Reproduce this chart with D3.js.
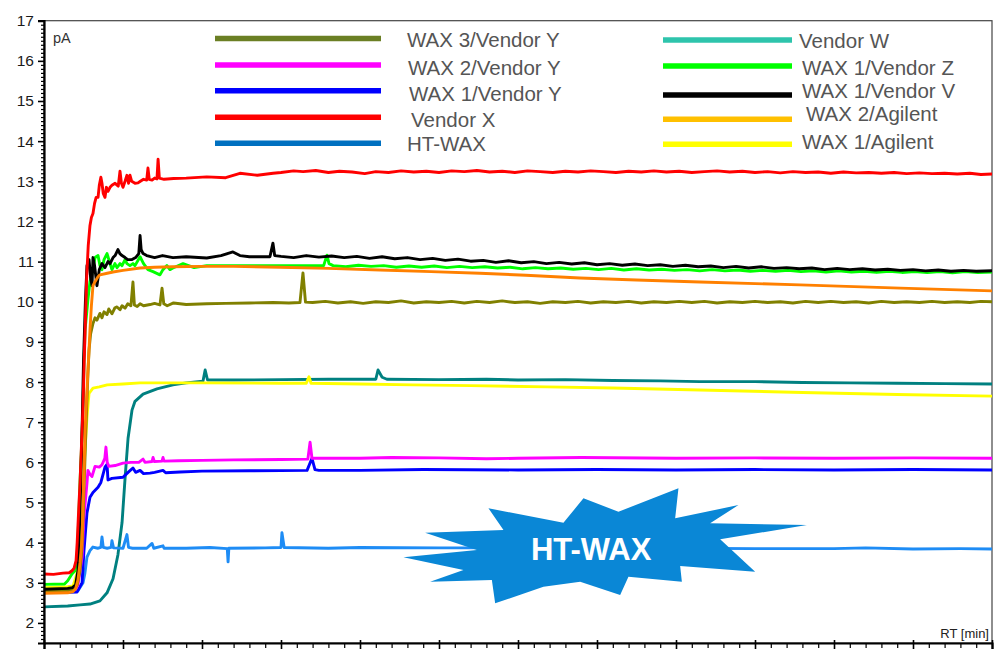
<!DOCTYPE html>
<html>
<head>
<meta charset="utf-8">
<script src="https://cdn.jsdelivr.net/npm/d3@7"></script>
<style>
  body { margin: 0; background: #fff; }
  svg { display: block; font-family: "Liberation Sans", Arial, sans-serif; }
</style>
</head>
<body>
<svg width="998" height="649"></svg>
<script>
// legend / series names, in legend order (two columns of five)
var seriesNames = ["WAX 3/Vendor Y", "WAX 2/Vendor Y", "WAX 1/Vendor Y", "Vendor X", "HT-WAX",
                   "Vendor W", "WAX 1/Vendor Z", "WAX 1/Vendor V", "WAX 2/Agilent", "WAX 1/Agilent"];

// y tick labels (pA)
var yTickLabels = [2, 3, 4, 5, 6, 7, 8, 9, 10, 11, 12, 13, 14, 15, 16, 17];

// traces: [RT (min), signal (pA)]
var wax3VendorY = [[0,2.8],[1.5,2.8],[1.9,2.82],[2.1,2.95],[2.28,3.3],[2.41,3.9],[2.53,5.3],[2.65,6.8],[2.78,8.2],[2.85,8.8],
  [2.95,9.2],[3.1,9.46],[3.23,9.6],[3.35,9.54],[3.54,9.71],[3.67,9.6],[3.8,9.75],[3.99,9.68],[4.1,9.82],[4.3,9.7],[4.49,9.85],
  [4.62,9.87],[4.81,9.8],[4.94,9.9],[5.13,9.84],[5.3,9.95],[5.5,9.9],[5.63,10.49],[5.72,9.92],[5.9,9.88],[6.08,9.95],[6.3,9.9],
  [6.71,9.93],[7.0,9.96],[7.34,9.92],[7.47,10.34],[7.58,9.95],[7.8,9.9],[8.2,9.97],[9.0,9.93],[10.3,9.95],[11.5,9.96],[13,9.97],
  [14.5,9.98],[15.5,9.97],[16.2,9.98],[16.39,10.72],[16.55,9.99],[17,9.98],[17.8,10.01],[18.6,9.97],[19.4,10.0],[20.2,9.96],
  [21,10.0],[21.8,9.98],[22.6,10.02],[23.4,9.97],[24.2,10.0],[25,9.98],[25.8,10.01],[26.6,9.97],[27.4,10.01],[28.2,9.98],
  [29,10.02],[29.8,9.98],[30.6,10.0],[31.4,9.96],[32.2,10.0],[33,9.98],[33.8,10.01],[34.6,9.97],[35.4,10.0],[36.2,9.98],
  [37,10.01],[37.8,9.97],[38.6,10.0],[39.4,9.98],[40.2,10.01],[41,9.98],[41.8,10.01],[42.6,9.97],[43.4,10.0],[44.2,9.98],
  [45,10.01],[45.8,9.98],[46.6,10.0],[47.4,9.97],[48.2,10.01],[49,9.98],[49.8,10.01],[50.6,9.98],[51.4,10.0],[52.2,9.97],
  [53,10.01],[53.8,9.98],[54.6,10.0],[55.4,9.98],[56.2,10.01],[57,9.98],[57.8,10.0],[58.6,9.98],[59.3,10.01],[60,10.0]];

var wax2VendorY = [[0,2.82],[1.5,2.82],[2.0,2.84],[2.15,2.95],[2.41,3.64],[2.53,4.66],[2.72,5.48],[2.78,5.8],[2.91,5.7],[3.04,5.65],
  [3.23,5.9],[3.5,5.88],[3.67,5.94],[3.85,6.1],[3.92,6.38],[4.0,6.0],[4.1,5.9],[4.5,5.92],[5.0,5.98],[5.5,6.0],[6.0,6.0],
  [6.27,6.08],[6.39,6.0],[6.84,6.02],[6.9,6.12],[6.98,6.02],[7.47,6.03],[7.53,6.12],[7.6,6.03],[8.5,6.04],[10,6.05],[12,6.06],
  [15,6.07],[16.7,6.08],[16.84,6.5],[16.96,6.1],[17.2,6.1],[20,6.1],[22,6.12],[25,6.11],[28,6.09],[30,6.1],[34,6.12],[40,6.1],
  [45,6.11],[50,6.1],[55,6.11],[60,6.1]];

var wax1VendorY = [[0,2.76],[1.5,2.76],[2.09,2.77],[2.41,3.0],[2.53,3.8],[2.72,4.74],[2.91,5.13],[3.1,5.25],[3.42,5.38],[3.6,5.5],
  [3.86,5.88],[3.99,5.95],[4.05,5.56],[4.3,5.6],[5.0,5.63],[5.32,5.75],[5.63,5.86],[5.8,5.75],[6.08,5.8],[6.3,5.72],[6.71,5.73],
  [7.0,5.75],[7.53,5.8],[7.7,5.74],[8.61,5.76],[10,5.78],[13,5.79],[16.65,5.8],[16.96,6.1],[17.15,5.82],[17.4,5.8],[20,5.8],
  [24,5.82],[30,5.81],[35,5.82],[40,5.81],[45,5.82],[50,5.81],[55,5.82],[60,5.81]];

var vendorX = [[0,3.22],[0.6,3.21],[1.2,3.24],[1.6,3.25],[1.77,3.3],[1.9,3.36],[2.03,3.55],[2.1,4.0],[2.17,4.6],[2.28,5.5],
  [2.38,6.5],[2.47,7.4],[2.55,8.6],[2.62,9.5],[2.7,10.6],[2.8,11.4],[2.91,11.9],[3.0,12.1],[3.1,12.2],[3.2,12.45],[3.3,12.6],
  [3.42,12.6],[3.5,12.9],[3.6,13.1],[3.67,12.95],[3.75,12.7],[3.86,12.6],[3.95,12.85],[4.05,12.75],[4.18,12.85],[4.3,12.9],
  [4.5,12.95],[4.7,12.88],[4.81,13.25],[4.9,12.95],[5.0,12.85],[5.13,13.0],[5.25,13.15],[5.35,12.95],[5.44,13.15],[5.55,13.0],
  [5.76,12.95],[5.95,12.96],[6.1,13.0],[6.3,13.05],[6.5,13.03],[6.58,13.33],[6.66,13.05],[6.84,13.03],[7.0,13.08],[7.15,13.06],
  [7.22,13.55],[7.3,13.08],[7.6,13.05],[8.2,13.07],[9.0,13.08],[10.3,13.11],[11.5,13.09],[12.4,13.2],[13.5,13.15],[14.5,13.2],
  [15,13.22],[15.8,13.26],[16.4,13.24],[17.2,13.27],[18,13.22],[18.7,13.25],[19.5,13.23],[20.3,13.19],[21,13.24],[21.8,13.22],
  [22.6,13.26],[23.4,13.23],[24.2,13.25],[25,13.22],[25.8,13.26],[26.6,13.24],[27.4,13.27],[28.2,13.23],[29,13.25],[29.8,13.22],
  [30.6,13.26],[31.4,13.24],[32.2,13.22],[33,13.25],[33.8,13.23],[34.6,13.26],[35.4,13.24],[36.2,13.22],[37,13.25],[37.8,13.23],
  [38.6,13.26],[39.4,13.23],[40.2,13.25],[41,13.22],[41.8,13.24],[42.6,13.26],[43.4,13.23],[44.2,13.25],[45,13.22],[45.8,13.24],
  [46.6,13.21],[47.4,13.24],[48.2,13.22],[49,13.23],[49.8,13.2],[50.6,13.23],[51.4,13.21],[52.2,13.22],[53,13.2],[53.8,13.22],
  [54.6,13.19],[55.4,13.21],[56.2,13.19],[57,13.2],[57.8,13.18],[58.6,13.2],[59.3,13.17],[60,13.18]];

var htWax = [[0,2.78],[1.5,2.78],[2.15,2.8],[2.47,3.0],[2.59,3.24],[2.72,3.64],[2.91,3.8],[3.1,3.89],[3.4,3.86],[3.6,3.88],
  [3.67,4.14],[3.75,3.88],[4.0,3.86],[4.25,3.88],[4.3,4.05],[4.4,3.87],[5.0,3.86],[5.25,4.2],[5.35,3.88],[5.6,3.86],[6.5,3.86],
  [6.84,3.98],[6.95,3.86],[7.53,3.92],[7.6,3.86],[9,3.86],[10.5,3.88],[11.6,3.85],[11.65,3.52],[11.7,3.86],[14,3.87],[15.0,3.88],
  [15.06,4.25],[15.2,3.88],[18,3.86],[20,3.88],[25,3.87],[30,3.87],[35,3.86],[40,3.86],[45,3.85],[50,3.85],[52,3.87],[55,3.84],
  [58,3.85],[60,3.84]];

var vendorW = [[0,2.4],[1.5,2.42],[2.28,2.45],[2.91,2.47],[3.54,2.55],[3.99,2.75],[4.37,3.1],[4.68,3.7],[4.94,4.5],[5.13,5.6],
  [5.32,6.6],[5.57,7.3],[5.76,7.52],[6.27,7.7],[7.15,7.83],[8.16,7.93],[9.0,7.98],[10.06,8.02],[10.2,8.3],[10.35,8.05],[12,8.05],
  [15,8.06],[18,8.07],[21.0,8.07],[21.14,8.3],[21.4,8.12],[21.7,8.07],[25,8.06],[28,8.07],[30,8.05],[33,8.06],[36,8.04],
  [39,8.03],[41.5,8.01],[45,8.01],[48,7.99],[51,7.98],[54,7.97],[57,7.96],[60,7.95]];

var wax1VendorZ = [[0,2.96],[1.3,2.97],[1.5,3.05],[1.77,3.22],[1.96,3.3],[2.09,3.6],[2.15,4.1],[2.28,5.5],[2.41,6.7],[2.47,7.4],
  [2.53,8.5],[2.6,9.3],[2.72,9.8],[2.78,10.05],[2.91,10.5],[3.1,10.8],[3.23,11.1],[3.42,11.15],[3.54,10.9],[3.67,10.8],
  [3.8,11.05],[3.99,11.2],[4.18,10.95],[4.3,10.8],[4.49,10.95],[4.62,10.85],[4.81,10.95],[4.94,10.9],[5.13,11.05],[5.25,10.95],
  [5.44,10.9],[5.63,10.95],[5.76,10.9],[6.08,11.12],[6.3,10.95],[6.58,10.8],[6.9,10.75],[7.34,10.67],[7.53,10.8],[7.78,10.9],
  [7.97,10.8],[8.16,10.84],[8.8,10.95],[9.5,10.85],[10.3,10.9],[12.4,10.9],[14.5,10.9],[16.7,10.9],[17.7,10.9],[17.91,11.16],
  [18.04,10.95],[18.3,10.9],[19.1,10.87],[19.9,10.91],[20.7,10.88],[21.5,10.9],[22.3,10.86],[23.1,10.89],[23.9,10.86],
  [24.7,10.89],[25.5,10.85],[26.3,10.88],[27.1,10.85],[27.9,10.87],[28.7,10.84],[29.5,10.86],[30.3,10.82],[31.1,10.85],
  [31.9,10.82],[32.7,10.84],[33.5,10.81],[34.3,10.83],[35.1,10.8],[35.9,10.83],[36.7,10.79],[37.5,10.82],[38.3,10.79],
  [39.1,10.81],[39.9,10.78],[40.7,10.8],[41.5,10.77],[42.3,10.8],[43.1,10.77],[43.9,10.79],[44.7,10.76],[45.5,10.78],
  [46.3,10.76],[47.1,10.78],[47.9,10.75],[48.7,10.77],[49.5,10.74],[50.3,10.77],[51.1,10.74],[51.9,10.76],[52.7,10.73],
  [53.5,10.76],[54.3,10.73],[55.1,10.75],[55.9,10.73],[56.7,10.75],[57.5,10.72],[58.3,10.75],[59.1,10.73],[60,10.74]];

var wax1VendorV = [[0,2.84],[1.5,2.86],[1.8,2.88],[2.0,2.95],[2.15,3.3],[2.28,4.8],[2.41,6.8],[2.5,8.5],[2.62,10.0],[2.72,10.9],
  [2.85,11.05],[2.95,10.6],[3.04,10.4],[3.1,11.1],[3.2,10.9],[3.35,10.4],[3.5,10.8],[3.67,10.95],[3.86,10.85],[4.05,11.0],
  [4.18,10.95],[4.37,11.1],[4.5,11.15],[4.68,11.3],[4.8,11.2],[4.94,11.15],[5.13,11.1],[5.3,11.05],[5.57,11.05],[5.8,11.1],
  [6.0,11.2],[6.08,11.65],[6.15,11.3],[6.27,11.2],[6.5,11.15],[7.0,11.1],[7.5,11.15],[8.16,11.1],[9.0,11.12],[10.3,11.09],
  [11.2,11.15],[11.96,11.24],[12.4,11.15],[13.0,11.12],[14.3,11.12],[14.49,11.46],[14.6,11.15],[15,11.13],[15.8,11.1],
  [16.6,11.15],[17.4,11.11],[18.2,11.14],[19,11.1],[19.8,11.13],[20.6,11.08],[21.4,11.12],[22.2,11.07],[23,11.1],[23.8,11.05],
  [24.6,11.08],[25.4,11.03],[26.2,11.06],[27,11.01],[27.8,11.03],[28.6,10.98],[29.4,11.02],[30.2,10.97],[31,11.0],[31.8,10.95],
  [32.6,10.98],[33.4,10.94],[34.2,10.97],[35,10.92],[35.8,10.95],[36.6,10.91],[37.4,10.94],[38.2,10.9],[39,10.92],[39.8,10.88],
  [40.6,10.91],[41.4,10.87],[42.2,10.89],[43,10.85],[43.8,10.88],[44.6,10.84],[45.4,10.87],[46.2,10.83],[47,10.85],[47.8,10.82],
  [48.6,10.84],[49.4,10.8],[50.2,10.83],[51,10.8],[51.8,10.82],[52.6,10.79],[53.4,10.81],[54.2,10.78],[55,10.8],[55.8,10.77],
  [56.6,10.79],[57.4,10.76],[58.2,10.78],[59,10.76],[60,10.77]];

var wax2Agilent = [[0,2.74],[1.5,2.75],[1.84,2.78],[2.0,2.85],[2.15,3.07],[2.28,3.5],[2.41,4.1],[2.53,5.7],[2.6,6.8],[2.72,7.8],
  [2.85,8.8],[2.91,9.3],[3.0,9.9],[3.1,10.4],[3.23,10.5],[3.42,10.62],[3.54,10.67],[4.0,10.71],[4.37,10.74],[5.0,10.78],
  [6.08,10.84],[7.0,10.86],[8.16,10.87],[10,10.88],[12,10.88],[14.94,10.86],[18,10.83],[21.27,10.79],[24.5,10.75],[27.59,10.71],
  [30.5,10.66],[33.92,10.59],[37.5,10.54],[41.52,10.49],[47.85,10.42],[54.2,10.34],[60,10.27]];

var wax1Agilent = [[0,2.88],[1.5,2.9],[1.84,2.92],[2.09,3.24],[2.22,3.74],[2.41,4.49],[2.53,5.88],[2.72,7.13],[2.85,7.72],
  [3.1,7.85],[3.5,7.88],[4.0,7.93],[5,7.95],[6.08,7.98],[8,7.98],[10,7.98],[14.94,7.97],[16.6,7.97],[16.77,8.13],[16.9,7.97],
  [20,7.95],[23.35,7.93],[27,7.91],[31.84,7.88],[36,7.85],[41.52,7.8],[48,7.74],[54,7.69],[60,7.65]];

var traces = [wax3VendorY, wax2VendorY, wax1VendorY, vendorX, htWax, vendorW, wax1VendorZ, wax1VendorV, wax2Agilent, wax1Agilent];

// colours: trace colour and legend swatch colour (they differ a little in the original)
var traceColor = ["#808000", "#ff00ff", "#0000ff", "#ff0000", "#1e8cf5", "#008080", "#00ff00", "#000000", "#ff8000", "#ffff00"];
var swatchColor = ["#6b7f24", "#ff00ff", "#0000ff", "#ff0000", "#0070c0", "#2ec4ac", "#00ff00", "#000000", "#ffc000", "#ffff00"];

// drawing order (last is on top)
var drawOrder = [5, 4, 2, 1, 9, 0, 6, 7, 8, 3];

var svg = d3.select("svg"),
    width = +svg.attr("width"),
    height = +svg.attr("height");

var margin = {top: 20.7, right: 6, bottom: 6, left: 44};

var x = d3.scaleLinear().domain([0, 60]).range([margin.left, width - margin.right]);
var y = d3.scaleLinear().domain([1.5, 17]).range([height - margin.bottom, margin.top]);

// frame
svg.append("rect")
    .attr("x", x(0)).attr("y", y(17))
    .attr("width", x(60) - x(0)).attr("height", y(1.5) - y(17))
    .attr("fill", "none").attr("stroke", "#444").attr("stroke-width", 1.2);

// traces
var line = d3.line()
    .x(function(d) { return x(d[0]); })
    .y(function(d) { return y(d[1]); });

svg.append("g")
    .attr("class", "traces")
  .selectAll("path")
  .data(drawOrder)
  .enter().append("path")
    .attr("d", function(i) { return line(traces[i]); })
    .attr("fill", "none")
    .attr("stroke", function(i) { return traceColor[i]; })
    .attr("stroke-width", 2.9)
    .attr("stroke-linejoin", "round");

// starburst annotation, anchored on the HT-WAX trace level
var burstAnchor = [35.2, 3.94];
var burstShape = [[-16.7,-46.7],[18.3,-33.3],[78.3,-56.7],[75,-26.7],[138.3,-40],[110,-21.7],[206.7,-20],[120,-5.7],
  [155,26.7],[80,21],[81.7,36.7],[28.3,31.7],[20,50],[-20,36.7],[-56.7,41.7],[-105,58.3],[-108.3,35],[-170,36.7],
  [-136.7,25],[-196.7,12.3],[-123.3,5],[-175,-12.3],[-96.7,-15],[-111.7,-36.7],[-36.7,-22.3]];

var burst = svg.append("g")
    .attr("transform", "translate(" + x(burstAnchor[0]) + "," + y(burstAnchor[1]) + ")");
burst.append("polygon")
    .attr("points", burstShape.map(function(p) { return p.join(","); }).join(" "))
    .attr("fill", "#0a87d6");
burst.append("text")
    .attr("x", -9).attr("y", 15)
    .attr("text-anchor", "middle")
    .attr("fill", "#fff")
    .attr("font-weight", "bold")
    .attr("font-size", 31)
    .text("HT-WAX");

// axes
var yAxis = svg.append("g")
    .attr("transform", "translate(" + x(0) + ",0)")
    .call(d3.axisLeft(y).tickValues(yTickLabels).tickSize(6).tickPadding(4));
yAxis.select(".domain").attr("stroke-width", 2.2);
yAxis.selectAll(".tick line").attr("stroke-width", 1.6);
yAxis.selectAll("text").attr("font-size", 15.5).attr("fill", "#1a1a1a")
    .attr("font-family", "'Liberation Sans', Arial, sans-serif");

var yMinor = d3.range(16, 170).map(function(d) { return d / 10; }).filter(function(d, i) { return (i + 6) % 10 !== 0; });
svg.append("g")
    .attr("transform", "translate(" + x(0) + ",0)")
    .call(d3.axisLeft(y).tickValues(yMinor).tickSize(3).tickFormat(""))
    .call(function(g) { g.select(".domain").remove(); })
    .selectAll(".tick line").attr("stroke-width", 1.2);

var xAxis = svg.append("g")
    .attr("transform", "translate(0," + y(1.5) + ")")
    .call(d3.axisBottom(x).tickValues(d3.range(0, 61, 5)).tickSize(6).tickFormat(""));
xAxis.select(".domain").attr("stroke-width", 2.2);
xAxis.selectAll(".tick line").attr("stroke-width", 1.6).attr("y1", -3);

svg.append("g")
    .attr("transform", "translate(0," + y(1.5) + ")")
    .call(d3.axisBottom(x).tickValues(d3.range(0, 61).filter(function(d) { return d % 5 !== 0; })).tickSize(5).tickFormat(""))
    .call(function(g) { g.select(".domain").remove(); })
    .selectAll(".tick line").attr("stroke-width", 1.2);

// axis titles
svg.append("text")
    .attr("x", x(0) + 9).attr("y", y(17) + 22)
    .attr("font-size", 14.5).attr("fill", "#333")
    .text("pA");

svg.append("text")
    .attr("x", x(60) - 3).attr("y", y(1.5) - 5)
    .attr("text-anchor", "end")
    .attr("font-size", 13).attr("fill", "#222")
    .text("RT [min]");

// legend, two columns of five (the original is hand placed, hence the per-row nudges)
var legendCols = [
  {x1: 215, x2: 381, tx: [407, 408, 409, 411, 407], ly: [38.5, 65, 90.8, 117.3, 143.3], ty: [39.3, 67.3, 94, 120, 144]},
  {x1: 663, x2: 792, tx: [799, 802, 802, 806, 802], ly: [40, 66, 95, 119.3, 144.3], ty: [40.7, 67.3, 90.7, 114, 141.7]}
];

var legend = svg.append("g").attr("class", "legend")
  .selectAll("g")
  .data(seriesNames)
  .enter().append("g");

legend.append("line")
    .attr("x1", function(d, i) { return legendCols[Math.floor(i / 5)].x1; })
    .attr("x2", function(d, i) { return legendCols[Math.floor(i / 5)].x2; })
    .attr("y1", function(d, i) { return legendCols[Math.floor(i / 5)].ly[i % 5]; })
    .attr("y2", function(d, i) { return legendCols[Math.floor(i / 5)].ly[i % 5]; })
    .attr("stroke", function(d, i) { return swatchColor[i]; })
    .attr("stroke-width", 5.5);

legend.append("text")
    .attr("x", function(d, i) { return legendCols[Math.floor(i / 5)].tx[i % 5]; })
    .attr("y", function(d, i) { return legendCols[Math.floor(i / 5)].ty[i % 5]; })
    .attr("dy", "0.36em")
    .attr("font-size", 20.5)
    .attr("fill", "#555")
    .text(function(d) { return d; });
</script>
</body>
</html>
